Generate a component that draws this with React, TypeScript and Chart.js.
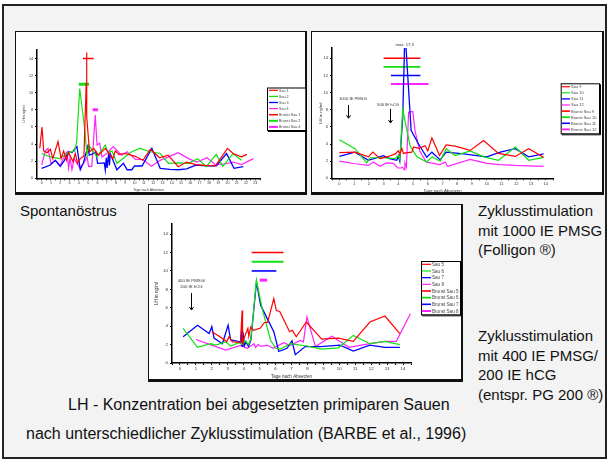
import React, { useEffect, useRef } from 'react';
import { Chart, registerables } from 'chart.js';

Chart.register(...registerables);

const FONT = "'Liberation Sans', Arial, Helvetica, sans-serif";

type P = [number, number];
type B = [number, number, number]; // start day, end day, level

// ---------- Panel 1: Spontanöstrus ----------
const sau1: P[] = [[-0.2,3.5],[0.04,6.0],[0.22,3.2],[0.58,3.0],[0.94,3.4],[1.2,2.3],[1.76,4.3],[2.1,2.3],[2.37,3.2],[2.66,2.1],[2.9,3.0],[3.37,1.95],[3.62,2.9],[3.87,1.75],[4.16,2.3],[4.55,2.6],[4.8,11.2],[4.83,14.7],[4.87,7.2],[5.06,4.3],[5.17,3.1],[5.6,3.5],[6.1,2.7],[6.85,3.5],[7.2,3.0],[7.67,2.3],[7.92,3.2],[8.3,2.8],[9.0,2.9],[10.0,2.6],[10.9,2.1],[11.7,3.4],[12.7,2.4],[13.6,2.7],[14.7,1.35],[15.6,1.9],[16.6,1.6],[17.6,1.5],[18.7,1.45],[20.0,3.5],[20.6,2.9],[21.5,2.5],[22.1,2.8]];
const sau2: P[] = [[0,2.9],[0.93,2.5],[1.9,2.3],[2.7,2.9],[3.55,3.2],[3.77,4.3],[4.1,10.5],[4.63,5.8],[4.88,2.7],[5.06,3.9],[5.95,2.5],[6.85,3.9],[7.14,3.0],[7.57,3.2],[8.1,1.75],[9.7,3.1],[10.6,3.5],[11.7,3.1],[12.76,2.9],[13.65,1.75],[14.72,1.8],[15.8,1.75],[16.8,2.3],[17.7,1.35],[18.78,2.8],[19.5,1.4],[20.6,2.9],[21.5,2.1]];
const sau3: P[] = [[0,1.17],[0.93,1.55],[1.47,2.1],[2.0,1.4],[2.4,2.0],[2.9,3.1],[3.26,3.0],[3.62,3.5],[3.8,3.7],[4.16,1.0],[4.5,1.8],[4.95,3.7],[5.13,2.7],[5.6,2.9],[5.84,3.1],[6.02,1.75],[6.74,1.8],[6.85,0.97],[6.95,2.4],[7.05,1.2],[7.2,2.9],[7.3,1.5],[7.38,2.9],[8.1,1.0],[8.8,1.75],[9.2,1.0],[9.7,1.0],[10.0,1.44],[10.8,1.44],[11.86,3.5],[12.76,1.17],[13.8,1.05],[14.7,1.0],[15.6,1.1],[16.6,1.55],[17.7,1.45],[18.8,1.45],[19.9,2.9],[20.7,1.17],[21.7,1.36]];
const sau4: P[] = [[0,1.55],[0.4,3.2],[0.68,3.5],[1.0,1.75],[1.47,2.1],[2.0,1.5],[2.5,2.7],[2.72,3.1],[2.9,1.2],[3.05,2.4],[3.26,1.0],[3.5,2.3],[4.1,1.2],[4.5,1.75],[4.9,2.5],[5.05,1.4],[5.4,1.4],[5.77,7.4],[5.96,3.9],[6.24,4.1],[6.5,2.5],[6.9,2.8],[7.7,3.7],[8.6,2.7],[9.2,3.1],[10.1,2.2],[10.9,2.2],[11.8,1.4],[12.76,2.1],[13.65,2.5],[14.7,3.0],[15.8,2.3],[16.7,1.9],[17.8,2.4],[18.7,1.6],[19.8,1.7],[20.6,1.9],[21.5,1.6],[22.8,2.3]];
const brunst1: B = [4.45, 5.6, 14];
const brunst2: B = [4.0, 5.1, 11];
const brunst4: B = [5.5, 6.05, 8];

// ---------- Panel 2: 1000 IE PMSG ----------
const sau9: P[] = [[0,3.0],[1.06,3.05],[1.97,2.5],[2.27,3.05],[2.76,2.3],[3.33,2.55],[3.78,2.85],[4.0,3.2],[4.1,2.8],[4.24,3.5],[4.35,2.9],[4.6,3.0],[4.92,3.05],[5.03,3.65],[5.4,3.5],[5.82,3.8],[6.0,3.2],[6.28,4.7],[6.8,2.65],[7.25,3.9],[7.86,3.75],[8.88,3.25],[9.79,4.4],[10.8,2.9],[11.94,2.55],[12.85,3.45],[13.86,2.45]];
const sau10: P[] = [[0,4.5],[1.06,3.45],[1.86,1.8],[2.08,2.4],[2.99,2.4],[3.78,2.3],[4.0,2.65],[4.1,2.2],[4.15,3.4],[4.3,8.1],[4.49,6.4],[4.8,3.8],[5.26,2.5],[5.93,1.9],[6.3,2.5],[6.84,2.0],[7.25,3.45],[7.86,2.65],[8.88,3.2],[9.8,2.5],[10.8,2.1],[11.94,3.65],[12.85,2.1],[13.86,2.45]];
const sau11: P[] = [[0,2.55],[1.06,3.05],[1.97,2.1],[2.99,2.65],[3.4,2.3],[3.9,2.1],[4.0,2.6],[4.1,2.0],[4.3,7.1],[4.45,17.3],[4.87,5.6],[5.37,4.0],[5.93,2.45],[6.28,3.05],[6.84,2.15],[7.25,3.05],[8.43,2.85],[9.33,2.65],[10.0,2.5],[10.92,3.05],[11.94,3.45],[12.85,2.5],[13.86,2.85]];
const sau12: P[] = [[0,2.0],[1.06,1.7],[1.97,1.5],[2.3,1.9],[2.76,1.4],[3.2,1.8],[3.67,1.75],[3.96,1.2],[4.17,1.2],[4.3,1.3],[4.4,1.0],[4.45,1.8],[4.55,1.3],[4.7,7.7],[4.98,7.8],[5.14,5.5],[5.45,3.2],[5.9,1.9],[6.4,1.75],[6.84,1.6],[7.18,1.9],[7.34,1.4],[8.88,2.2],[10.0,1.75],[10.92,1.6],[11.94,1.5],[12.85,1.45],[13.86,1.4]];
const brunst9: B = [3.0, 5.5, 14];
const brunst10: B = [3.0, 5.5, 13];
const brunst11: B = [3.5, 5.5, 12];
const brunst12: B = [3.5, 6.05, 11];

// ---------- Panel 3: 400 IE PMSG / 200 IE hCG ----------
const sau5: P[] = [[2.0,3.4],[2.56,2.8],[2.93,2.3],[3.08,2.85],[3.29,2.3],[3.8,2.25],[3.9,5.7],[3.93,2.0],[4.0,2.6],[4.26,3.75],[4.32,2.9],[4.43,3.9],[4.64,3.55],[5.05,3.8],[5.3,4.4],[5.5,4.4],[5.89,7.0],[6.05,5.7],[6.26,5.6],[6.88,3.4],[7.05,3.55],[7.3,2.85],[7.93,4.45],[8.9,2.6],[9.94,2.7],[10.88,2.35],[11.92,4.45],[12.86,5.1],[13.8,3.2]];
const sau6: P[] = [[0.2,3.75],[1.1,1.7],[1.93,2.1],[2.25,1.95],[2.87,2.3],[3.18,1.85],[3.7,2.2],[3.9,2.0],[4.1,2.4],[4.3,2.0],[4.45,2.6],[4.8,9.0],[5.16,5.9],[5.68,2.5],[6.0,1.6],[6.3,1.5],[6.93,2.1],[7.97,1.85],[8.9,1.5],[9.94,1.65],[10.88,3.0],[11.92,2.1],[12.86,2.35],[13.8,2.0]];
const sau7: P[] = [[0.2,2.85],[1.1,4.1],[1.83,3.2],[2.0,3.95],[2.14,2.7],[2.66,2.1],[3.02,4.1],[3.18,2.5],[3.8,2.3],[3.87,3.6],[3.9,1.8],[3.95,3.4],[4.05,1.9],[4.15,2.3],[4.3,1.8],[4.45,2.5],[4.8,8.8],[5.06,6.3],[5.47,4.85],[5.89,3.4],[6.2,1.25],[6.72,1.6],[7.03,2.4],[7.24,0.9],[7.86,1.78],[8.8,1.78],[10.05,1.95],[10.88,1.3],[11.92,1.95],[12.86,1.7],[13.8,1.7]];
const sau8: P[] = [[1.0,2.55],[1.9,2.0],[2.87,1.4],[3.8,1.9],[4.2,1.6],[4.5,1.9],[4.64,2.1],[4.75,1.7],[4.9,2.0],[5.1,1.8],[5.47,1.95],[5.85,1.6],[6.51,2.2],[6.9,1.9],[7.55,2.45],[7.75,2.3],[7.97,5.0],[8.5,1.78],[9.53,2.9],[10.6,1.7],[11.92,2.1],[12.9,2.35],[13.58,2.35],[14.46,5.35]];
const brunst5: B = [4.5, 6.5, 12];
const brunst6: B = [4.5, 6.5, 11];
const brunst7: B = [4.5, 6.05, 10];
const brunst8: B = [5.0, 5.47, 9];

const yTitle = 'LH in ng/ml';
const xTitle = 'Tage nach Absetzen';

const RED = '#ff0000';
const GREEN = '#10e010';
const BLUE = '#0000ff';
const MAG = '#ff22ff';

interface Series { label: string; data: P[]; color: string; width: number }
interface BrunstS { label: string; seg: B; color: string; width: number }
interface Note { text: string; x: number; y: number }
interface Arrow { x: number; from: number; to: number }
interface LegendBox { x: number; y: number; w: number; h: number; first: number; row: number; s0: number; s1: number; tx: number; font: number }
interface Panel {
  box: [number, number, number, number];
  xMax: number; yMax: number;
  yAxisW: number; xAxisH: number;
  padding: { left: number; top: number; right: number; bottom: number };
  tickFont: number; titleFont: number; noteFont: number;
  series: Series[]; brunst: BrunstS[];
  legend: LegendBox; notes: Note[]; arrows: Arrow[];
}

const panels: Panel[] = [
  {
    box: [15, 31, 292, 164], xMax: 23.5, yMax: 15, yAxisW: 15, xAxisH: 14,
    padding: { left: 7, top: 19, right: 47, bottom: 2.7 },
    tickFont: 3.6, titleFont: 3.4, noteFont: 4,
    series: [
      { label: 'Sau 1', data: sau1, color: RED, width: 1.2 },
      { label: 'Sau 2', data: sau2, color: GREEN, width: 1.2 },
      { label: 'Sau 3', data: sau3, color: BLUE, width: 1.3 },
      { label: 'Sau 4', data: sau4, color: MAG, width: 1.2 },
    ],
    brunst: [
      { label: 'Brunst Sau 1', seg: brunst1, color: RED, width: 1.5 },
      { label: 'Brunst Sau 2', seg: brunst2, color: GREEN, width: 3 },
      { label: 'Brunst Sau 4', seg: brunst4, color: MAG, width: 3 },
    ],
    legend: { x: 252, y: 56.5, w: 38.5, h: 42.5, first: 2.8, row: 6.1, s0: 2, s1: 11, tx: 12, font: 3.7 },
    notes: [], arrows: [],
  },
  {
    box: [311, 31, 293, 164], xMax: 14.5, yMax: 15.2, yAxisW: 14, xAxisH: 15,
    padding: { left: 7, top: 17, right: 51, bottom: 1.7 },
    tickFont: 4, titleFont: 4.2, noteFont: 4.2,
    series: [
      { label: 'Sau 9', data: sau9, color: RED, width: 1.2 },
      { label: 'Sau 10', data: sau10, color: GREEN, width: 1.2 },
      { label: 'Sau 11', data: sau11, color: BLUE, width: 1.3 },
      { label: 'Sau 12', data: sau12, color: MAG, width: 1.2 },
    ],
    brunst: [
      { label: 'Brunst Sau 9', seg: brunst9, color: RED, width: 1.6 },
      { label: 'Brunst Sau 10', seg: brunst10, color: GREEN, width: 1.8 },
      { label: 'Brunst Sau 11', seg: brunst11, color: BLUE, width: 1.6 },
      { label: 'Brunst Sau 12', seg: brunst12, color: MAG, width: 1.8 },
    ],
    legend: { x: 249.7, y: 52.3, w: 38.3, h: 50, first: 3.4, row: 6.1, s0: 1, s1: 9.3, tx: 10.3, font: 4 },
    notes: [
      { text: 'max: 17,3', x: 4.43, y: 15.6 },
      { text: '1000 IE PMSG', x: 0.92, y: 9.25 },
      { text: '500 IE hCG', x: 3.3, y: 8.55 },
    ],
    arrows: [ { x: 0.6, from: 8.55, to: 7.0 }, { x: 3.47, from: 8.1, to: 6.45 } ],
  },
  {
    box: [148, 204, 315, 178], xMax: 14.5, yMax: 15.1, yAxisW: 18, xAxisH: 16,
    padding: { left: 6, top: 20, right: 52, bottom: 3 },
    tickFont: 4.4, titleFont: 4.5, noteFont: 4.3,
    series: [
      { label: 'Sau 5', data: sau5, color: RED, width: 1.2 },
      { label: 'Sau 6', data: sau6, color: GREEN, width: 1.2 },
      { label: 'Sau 7', data: sau7, color: BLUE, width: 1.3 },
      { label: 'Sau 8', data: sau8, color: MAG, width: 1.2 },
    ],
    brunst: [
      { label: 'Brunst Sau 5', seg: brunst5, color: RED, width: 1.6 },
      { label: 'Brunst Sau 6', seg: brunst6, color: GREEN, width: 1.8 },
      { label: 'Brunst Sau 7', seg: brunst7, color: BLUE, width: 1.6 },
      { label: 'Brunst Sau 8', seg: brunst8, color: MAG, width: 3 },
    ],
    legend: { x: 273, y: 57, w: 39, h: 53.3, first: 3.3, row: 6.67, s0: 0.7, s1: 10, tx: 11, font: 4.6 },
    notes: [
      { text: '400 IE PMSG/', x: 0.72, y: 8.9 },
      { text: '200 IE hCG', x: 0.72, y: 8.25 },
    ],
    arrows: [ { x: 0.69, from: 7.6, to: 5.75 } ],
  },
];

function makePlugin(p: Panel) {
  return {
    id: 'panelExtras',
    afterDraw(chart: any) {
      const ctx: CanvasRenderingContext2D = chart.ctx;
      const xs = chart.scales.x;
      const ys = chart.scales.y;
      ctx.save();
      ctx.fillStyle = '#333';
      ctx.font = `${p.noteFont}px ${FONT}`;
      ctx.textAlign = 'center';
      ctx.textBaseline = 'middle';
      p.notes.forEach((n) => ctx.fillText(n.text, xs.getPixelForValue(n.x), ys.getPixelForValue(n.y)));
      ctx.strokeStyle = '#000';
      ctx.lineWidth = 1;
      p.arrows.forEach((a) => {
        const x = Math.round(xs.getPixelForValue(a.x)) + 0.5;
        const y1 = ys.getPixelForValue(a.from);
        const y2 = ys.getPixelForValue(a.to);
        ctx.beginPath();
        ctx.moveTo(x, y1);
        ctx.lineTo(x, y2 - 1);
        ctx.stroke();
        ctx.beginPath();
        ctx.moveTo(x - 2, y2 - 3);
        ctx.lineTo(x, y2);
        ctx.lineTo(x + 2, y2 - 3);
        ctx.stroke();
      });
      const L = p.legend;
      ctx.fillStyle = '#fff';
      ctx.fillRect(L.x, L.y, L.w, L.h);
      ctx.strokeStyle = '#000';
      ctx.lineWidth = 1;
      ctx.strokeRect(L.x + 0.5, L.y + 0.5, L.w, L.h);
      ctx.beginPath();
      ctx.moveTo(L.x + L.w + 1.5, L.y + 1);
      ctx.lineTo(L.x + L.w + 1.5, L.y + L.h + 1.5);
      ctx.lineTo(L.x + 1, L.y + L.h + 1.5);
      ctx.stroke();
      ctx.font = `${L.font}px ${FONT}`;
      ctx.textAlign = 'left';
      ctx.textBaseline = 'middle';
      chart.data.datasets.forEach((ds: any, i: number) => {
        const cy = L.y + L.first + i * L.row;
        ctx.strokeStyle = ds.borderColor;
        ctx.lineWidth = Math.min(ds.borderWidth, 2);
        ctx.beginPath();
        ctx.moveTo(L.x + L.s0, cy);
        ctx.lineTo(L.x + L.s1, cy);
        ctx.stroke();
        ctx.fillStyle = '#444';
        ctx.fillText(ds.label, L.x + L.tx, cy + 0.3);
      });
      ctx.restore();
    },
  };
}

function buildConfig(p: Panel): any {
  const datasets: any[] = [
    ...p.series.map((s) => ({
      label: s.label,
      data: s.data.map(([x, y]) => ({ x, y })),
      borderColor: s.color, backgroundColor: s.color, borderWidth: s.width,
      pointRadius: 0, tension: 0, fill: false,
    })),
    ...p.brunst.map((b) => ({
      label: b.label,
      data: [{ x: b.seg[0], y: b.seg[2] }, { x: b.seg[1], y: b.seg[2] }],
      borderColor: b.color, backgroundColor: b.color, borderWidth: b.width,
      pointRadius: 0, tension: 0, fill: false,
    })),
  ];
  const tickFont = { family: FONT, size: p.tickFont };
  const titleFont = { family: FONT, size: p.titleFont };
  return {
    type: 'line',
    data: { datasets },
    options: {
      animation: false,
      responsive: false,
      devicePixelRatio: 1,
      events: [],
      layout: { padding: p.padding },
      plugins: { legend: { display: false }, tooltip: { enabled: false } },
      scales: {
        x: {
          type: 'linear', min: -0.5, max: p.xMax,
          border: { display: true, color: '#000', width: 1.5 },
          grid: { drawOnChartArea: false, drawTicks: true, tickLength: 2, color: '#000', lineWidth: 1 },
          ticks: {
            stepSize: 0.5, autoSkip: false, maxRotation: 0, minRotation: 0, includeBounds: false,
            padding: 1, color: '#333', font: tickFont,
            callback: (v: number) => (Number.isInteger(v) && v >= 0 ? String(v) : ''),
          },
          title: { display: true, text: xTitle, color: '#333', font: titleFont, padding: 0 },
          afterFit: (s: any) => { s.height = p.xAxisH; },
        },
        y: {
          type: 'linear', min: 0, max: p.yMax,
          border: { display: true, color: '#000', width: 1.5 },
          grid: { drawOnChartArea: false, drawTicks: true, tickLength: 2, color: '#000', lineWidth: 1 },
          ticks: { stepSize: 2, includeBounds: false, padding: 2, color: '#333', font: tickFont },
          title: { display: true, text: yTitle, color: '#333', font: titleFont, padding: 0 },
          afterFit: (s: any) => { s.width = p.yAxisW; },
        },
      },
    },
    plugins: [makePlugin(p)],
  };
}

function PanelChart({ p }: { p: Panel }) {
  const ref = useRef<HTMLCanvasElement | null>(null);
  useEffect(() => {
    if (!ref.current) return;
    const chart = new Chart(ref.current, buildConfig(p));
    return () => chart.destroy();
  }, [p]);
  const [l, t, w, h] = p.box;
  return (
    <>
      <div style={{ position: 'absolute', left: l, top: t, width: w, height: h, boxSizing: 'border-box', background: '#fff', borderStyle: 'solid', borderColor: '#111', borderWidth: '1px 2px 3px 1px' }} />
      <canvas ref={ref} width={w} height={h} style={{ position: 'absolute', left: l, top: t, width: w, height: h }} />
    </>
  );
}

const textStyle: React.CSSProperties = {
  position: 'absolute', fontFamily: FONT, fontSize: 15, color: '#111', whiteSpace: 'pre', lineHeight: '19.5px',
};

export default function App() {
  return (
    <div style={{ position: 'fixed', left: 0, top: 0, width: 609, height: 461, background: '#fff', overflow: 'hidden' }}>
      <div style={{ position: 'absolute', left: 2, top: 4, width: 605, height: 455, boxSizing: 'border-box', border: '2px solid #222', background: '#f3f3f3' }} />
      {panels.map((p, i) => <PanelChart key={i} p={p} />)}
      <div style={{ ...textStyle, left: 20, top: 201 }}>Spontanöstrus</div>
      <div style={{ ...textStyle, left: 478, top: 201 }}>{'Zyklusstimulation\nmit 1000 IE PMSG\n(Folligon ®)'}</div>
      <div style={{ ...textStyle, left: 478, top: 326 }}>{'Zyklusstimulation\nmit 400 IE PMSG/\n200 IE hCG\n(entspr. PG 200 ®)'}</div>
      <div style={{ ...textStyle, fontSize: 16, lineHeight: '20px', left: 68, top: 394.5 }}>LH - Konzentration bei abgesetzten primiparen Sauen</div>
      <div style={{ ...textStyle, fontSize: 16, lineHeight: '20px', left: 26, top: 423.5 }}>nach unterschiedlicher Zyklusstimulation (BARBE et al., 1996)</div>
    </div>
  );
}
